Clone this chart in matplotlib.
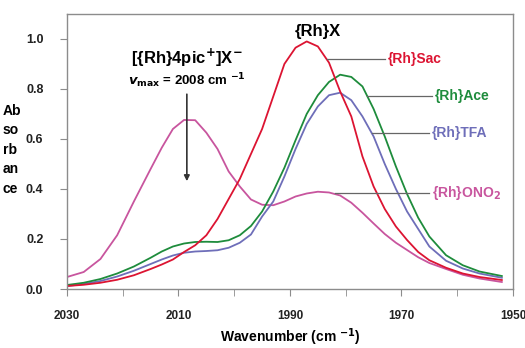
import matplotlib
matplotlib.use('Agg')
import matplotlib.pyplot as plt

plt.rcParams['font.family'] = ['Liberation Sans', 'DejaVu Sans']
plt.rcParams['font.weight'] = 'bold'

# wavenumber grid (cm-1) and absorbance
wavenumber = [2030, 2027, 2024, 2021, 2018, 2015, 2013, 2011, 2009, 2007,
              2005, 2003, 2001, 1999, 1997, 1995, 1993, 1991, 1989, 1987,
              1985, 1983, 1981, 1979, 1977, 1975, 1973, 1971, 1969, 1967,
              1965, 1962, 1959, 1956, 1952]

rh_sac = [0.012, 0.017, 0.025, 0.037, 0.055, 0.080, 0.098, 0.118, 0.148, 0.175,
          0.215, 0.280, 0.360, 0.440, 0.540, 0.640, 0.770, 0.900, 0.965, 0.990,
          0.970, 0.905, 0.790, 0.690, 0.530, 0.410, 0.320, 0.250, 0.196, 0.148,
          0.115, 0.085, 0.062, 0.048, 0.036]

rh_ace = [0.016, 0.025, 0.040, 0.062, 0.090, 0.125, 0.150, 0.170, 0.182, 0.188,
          0.189, 0.188, 0.195, 0.215, 0.252, 0.310, 0.390, 0.485, 0.595, 0.700,
          0.775, 0.828, 0.857, 0.848, 0.810, 0.720, 0.610, 0.490, 0.380, 0.285,
          0.210, 0.135, 0.095, 0.070, 0.052]

rh_tfa = [0.012, 0.020, 0.032, 0.050, 0.073, 0.100, 0.118, 0.134, 0.145, 0.150,
          0.152, 0.155, 0.165, 0.185, 0.218, 0.290, 0.350, 0.450, 0.560, 0.660,
          0.730, 0.775, 0.785, 0.755, 0.690, 0.610, 0.500, 0.400, 0.310, 0.240,
          0.170, 0.113, 0.082, 0.062, 0.045]

rh_ono2 = [0.048, 0.068, 0.120, 0.215, 0.350, 0.480, 0.565, 0.640, 0.676, 0.675,
           0.625, 0.560, 0.470, 0.410, 0.358, 0.337, 0.335, 0.350, 0.370, 0.382,
           0.389, 0.386, 0.374, 0.345, 0.305, 0.262, 0.220, 0.185, 0.156, 0.127,
           0.104, 0.080, 0.057, 0.042, 0.028]

x_major = [2030, 2010, 1990, 1970, 1950]
x_minor = [2020, 2000, 1980, 1960]
y_ticks = [0.0, 0.2, 0.4, 0.6, 0.8, 1.0]

c_sac = '#dc1432'
c_ace = '#1e8c3c'
c_tfa = '#6e6eb9'
c_ono2 = '#c8559e'
spine_col = '#8c8c8c'

fig = plt.figure(figsize=(5.25, 3.48), dpi=100)
ax = fig.add_axes([0.1276, 0.1695, 0.8495, 0.7905])

ax.plot(wavenumber, rh_ono2, color=c_ono2, lw=1.3)
ax.plot(wavenumber, rh_tfa, color=c_tfa, lw=1.3)
ax.plot(wavenumber, rh_ace, color=c_ace, lw=1.3)
ax.plot(wavenumber, rh_sac, color=c_sac, lw=1.3)

ax.set_xlim(2030, 1950)
ax.set_ylim(0, 1.1)
ax.set_xticks(x_major)
ax.set_xticks(x_minor, minor=True)
ax.set_yticks(y_ticks)
ax.set_yticklabels(['%.1f' % v for v in y_ticks])

for s in ax.spines.values():
    s.set_color(spine_col)
    s.set_linewidth(1.0)
ax.tick_params(axis='both', which='both', direction='out', color=spine_col,
               labelcolor='#222222')
ax.tick_params(axis='y', length=5, pad=12, labelsize=9)
ax.tick_params(axis='x', which='both', length=5, pad=10, labelsize=8.5)
for lbl in ax.get_xticklabels() + ax.get_yticklabels():
    lbl.set_fontweight('bold')

ax.set_xlabel('Wavenumber (cm $^{\\mathbf{-1}}$)', fontsize=10, fontweight='bold',
              labelpad=3)
fig.text(0.005, 0.57, 'Ab\nso\nrb\nan\nce', fontsize=10, fontweight='bold',
         va='center', ha='left', linespacing=1.5)

# annotations
ax.text(2008.5, 0.925, '[{Rh}4pic$^{\\mathbf{+}}$]X$^{\\mathbf{-}}$', fontsize=12,
        fontweight='bold', ha='center', va='center')
ax.text(2008.5, 0.835, '$\\mathbfit{v}$$_{\\mathrm{max}}$ = 2008 cm $^{\\mathbf{-1}}$',
        fontsize=9.5, fontweight='bold', ha='center', va='center')
ax.annotate('', xy=(2008.5, 0.42), xytext=(2008.5, 0.79),
            arrowprops=dict(arrowstyle='-|>', color='#333333', lw=1.2,
                            mutation_scale=8))
ax.text(1985, 1.03, '{Rh}X', fontsize=12, fontweight='bold', ha='center',
        va='center')

labels = [
    ('{Rh}Sac', c_sac, 0.92, 1983.4, 1973.0),
    ('{Rh}Ace', c_ace, 0.772, 1976.1, 1964.6),
    ('{Rh}TFA', c_tfa, 0.624, 1975.2, 1965.0),
    ('{Rh}ONO$_{\\mathbf{2}}$', c_ono2, 0.384, 1982.0, 1965.0),
]
for text, col, yv, x0, x1 in labels:
    ax.plot([x0, x1], [yv, yv], color='#666666', lw=0.9)
    ax.text(x1 - 0.5, yv, text, color=col, fontsize=10, fontweight='bold',
            ha='left', va='center')

fig.savefig('out.png', dpi=100)
plt.close()
